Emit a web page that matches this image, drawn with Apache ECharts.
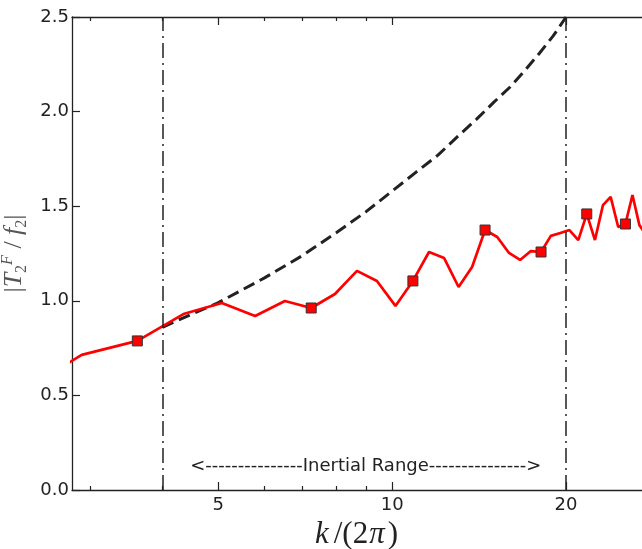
<!DOCTYPE html>
<html>
<head>
<meta charset="utf-8">
<script src="https://cdn.jsdelivr.net/npm/echarts@6/dist/echarts.min.js"></script>
<style>
html,body{margin:0;padding:0;background:#fff;}
#chart{width:642px;height:549px;}
</style>
</head>
<body>
<div id="chart"></div>
<script>
// ---- data ----
var xRange = [2.79, 27.07];
var xMajorTicks = [5, 10, 20];
var xMinorTicks = [3, 4, 6, 7, 8, 9];
var yTicks = [0, 0.5, 1.0, 1.5, 2.0, 2.5];

// red measured curve: k/(2pi) and |T2F/f2|
var kMeasured = [2.17, 2.90, 3.62, 4.35, 5.07, 5.79, 6.52, 7.24, 7.96, 8.69,
                 9.41, 10.13, 10.86, 11.58, 12.30, 13.03, 13.75, 14.48, 15.20, 15.93,
                 16.65, 17.38, 18.10, 18.82, 19.55, 20.27, 21.00, 21.72, 22.44, 23.17,
                 23.89, 24.62, 25.34, 26.06, 26.79, 27.51];
var tMeasured = [0.48, 0.714, 0.788, 0.930, 0.988, 0.920, 0.999, 0.962, 1.036, 1.158,
                 1.105, 0.973, 1.105, 1.258, 1.226, 1.073, 1.179, 1.374, 1.337, 1.253,
                 1.216, 1.263, 1.258, 1.343, 1.358, 1.374, 1.321, 1.459, 1.321, 1.506,
                 1.549, 1.390, 1.406, 1.559, 1.40, 1.35];
var markerEvery = 5, markerOffset = 2;

// black dashed reference curve
var kRef = [4, 4.5, 5, 6, 7, 8, 9, 10, 11, 12, 13, 14, 15, 16, 17, 18, 19, 20];
var tRef = [0.86, 0.93, 0.99, 1.12, 1.24, 1.36, 1.47, 1.58, 1.68, 1.77, 1.87, 1.96, 2.05, 2.13, 2.22, 2.31, 2.40, 2.50];

// inertial range bounds
var inertialRange = [4, 20];
var rangeLabel = '<---------------Inertial Range--------------->';
var rangeLabelPos = [9.0, 0.125];

var sans = 'DejaVu Sans';
var serif = 'Liberation Serif';
var ink = '#222';

function xAxisCfg(pos, major, showLine, withLabel) {
  var a = {
    type: 'log', logBase: 10, min: xRange[0], max: xRange[1], position: pos,
    splitLine: {show: false},
    axisLine: {show: showLine, lineStyle: {color: ink, width: 1.3}},
    axisTick: {show: true, inside: true, length: major ? 8 : 4,
               customValues: major ? xMajorTicks : xMinorTicks,
               lineStyle: {color: ink, width: 1.2}},
    axisLabel: {show: withLabel}
  };
  if (withLabel) {
    a.axisLabel = {show: true, customValues: xMajorTicks, margin: 6,
      formatter: function (v) { return String(Math.round(v)); },
      color: ink, fontFamily: sans, fontSize: 18};
    a.name = '{k|k}{rm|/(2}{pi|π}{rm|)}';
    a.nameLocation = 'middle';
    a.nameGap = 19;
    a.nameTextStyle = {color: ink, verticalAlign: 'top', rich: {
      k: {fontFamily: serif, fontStyle: 'italic', fontSize: 31, color: ink, padding: [0, 4, 0, 0]},
      pi: {fontFamily: serif, fontStyle: 'italic', fontSize: 31, color: ink, padding: [0, 2, 0, 0]},
      rm: {fontFamily: serif, fontSize: 31, color: ink, padding: [0, 1, 0, 1]}
    }};
  }
  return a;
}

var redData = kMeasured.map(function (k, i) {
  var item = {value: [k, tMeasured[i]]};
  item.symbol = (i % markerEvery === markerOffset) ? 'rect' : 'none';
  return item;
});
var refData = kRef.map(function (k, i) { return [k, tRef[i]]; });

var chart = echarts.init(document.getElementById('chart'), null, {renderer: 'canvas'});
chart.setOption({
  animation: false,
  backgroundColor: '#fff',
  grid: {left: 72, right: 0, top: 17, bottom: 59, containLabel: false, outerBoundsMode: 'none'},
  xAxis: [
    xAxisCfg('bottom', true, true, true),
    xAxisCfg('bottom', false, false, false),
    xAxisCfg('top', true, true, false),
    xAxisCfg('top', false, false, false)
  ],
  yAxis: {
    type: 'value', min: yTicks[0], max: yTicks[yTicks.length - 1], interval: 0.5,
    splitLine: {show: false},
    axisLine: {show: true, lineStyle: {color: ink, width: 1.3}},
    axisTick: {show: true, inside: true, length: 8, lineStyle: {color: ink, width: 1.2}},
    axisLabel: {margin: 3, color: ink, fontFamily: sans, fontSize: 18,
      formatter: function (v) { return v.toFixed(1); }},
    name: '{bar||}{it|T}{sub|2}{sup|F}{rm| / }{it|f}{sub|2}{bar||}',
    nameLocation: 'middle',
    nameGap: 36,
    nameTextStyle: {color: '#555', rich: {
      bar: {fontFamily: serif, fontSize: 26, color: '#555', lineHeight: 30},
      it: {fontFamily: serif, fontStyle: 'italic', fontSize: 26, color: '#555', lineHeight: 30},
      rm: {fontFamily: serif, fontSize: 26, color: '#555', lineHeight: 30},
      sub: {fontFamily: serif, fontSize: 16, color: '#555', lineHeight: 15, verticalAlign: 'bottom'},
      sup: {fontFamily: serif, fontStyle: 'italic', fontSize: 16, color: '#555', lineHeight: 15, verticalAlign: 'top'}
    }}
  },
  series: [
    {
      type: 'line', name: 'reference', data: refData, xAxisIndex: 0,
      symbol: 'none', z: 3,
      lineStyle: {color: ink, width: 3, type: [12, 6]},
      markPoint: {
        symbol: 'rect', symbolSize: 1, silent: true,
        itemStyle: {color: 'rgba(0,0,0,0)'},
        label: {show: true, position: 'inside', color: ink, fontFamily: sans, fontSize: 18,
                formatter: function () { return rangeLabel; }},
        data: [{coord: rangeLabelPos}]
      }
    },
    {
      type: 'line', name: 'measured', data: redData, xAxisIndex: 0,
      z: 4, symbolSize: 10, showAllSymbol: true,
      lineStyle: {color: '#ff0000', width: 2.7},
      itemStyle: {color: '#ff0000', borderColor: '#333', borderWidth: 1},
      markLine: {
        silent: true, symbol: 'none', label: {show: false},
        lineStyle: {color: ink, width: 1.5, type: [15, 5, 2, 5]},
        data: inertialRange.map(function (k) { return {xAxis: k}; })
      }
    }
  ]
});
</script>
</body>
</html>
